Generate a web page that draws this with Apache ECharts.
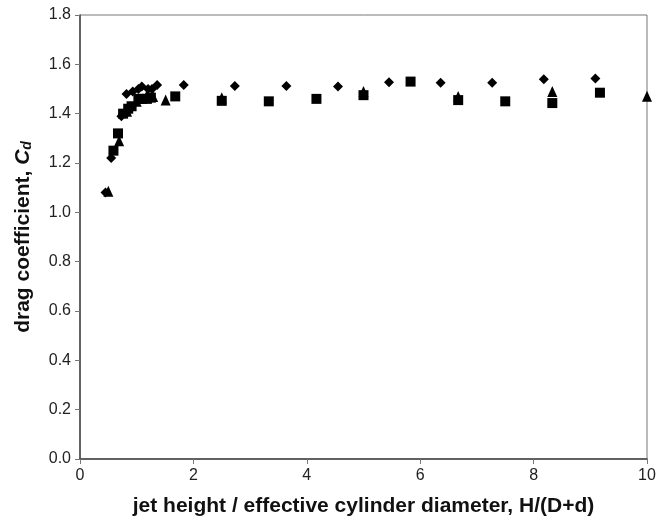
<!DOCTYPE html>
<html>
<head>
<meta charset="utf-8">
<script src="https://cdn.jsdelivr.net/npm/echarts@6/dist/echarts.min.js"></script>
<style>
  html, body { margin: 0; padding: 0; background: #fff; }
  #chart { width: 667px; height: 525px; }
</style>
</head>
<body>
<div id="chart"></div>
<script>
// Drag coefficient vs. normalised jet height, three data sets
const diamondX = [0.45, 0.55, 0.73, 0.82, 0.93, 1.03, 1.09, 1.2, 1.27, 1.36, 1.83, 2.73, 3.64, 4.55, 5.45, 6.36, 7.27, 8.18, 9.09];
const diamondY = [1.08, 1.22, 1.39, 1.48, 1.49, 1.50, 1.51, 1.50, 1.50, 1.516, 1.516, 1.512, 1.512, 1.51, 1.527, 1.525, 1.525, 1.54, 1.543];

const squareX = [0.59, 0.67, 0.76, 0.85, 0.91, 1.03, 1.1, 1.18, 1.25, 1.68, 2.5, 3.33, 4.17, 5.0, 5.83, 6.67, 7.5, 8.33, 9.17];
const squareY = [1.25, 1.32, 1.40, 1.42, 1.43, 1.46, 1.46, 1.46, 1.465, 1.47, 1.452, 1.45, 1.46, 1.475, 1.53, 1.455, 1.45, 1.443, 1.485];

const triangleX = [0.5, 0.69, 0.83, 1.0, 1.17, 1.29, 1.51, 2.5, 5.0, 6.67, 8.33, 10.0];
const triangleY = [1.085, 1.29, 1.41, 1.45, 1.47, 1.47, 1.455, 1.465, 1.49, 1.47, 1.49, 1.471];

const xTicks = [0, 2, 4, 6, 8, 10];
const yTicks = [0.0, 0.2, 0.4, 0.6, 0.8, 1.0, 1.2, 1.4, 1.6, 1.8];

const pairs = (xs, ys) => xs.map((x, i) => [x, ys[i]]);

const FONT = 'Liberation Sans, Arial, sans-serif';
const chart = echarts.init(document.getElementById('chart'), null, { renderer: 'canvas' });

chart.setOption({
  animation: false,
  backgroundColor: '#fff',
  grid: {
    left: 80, right: 20, top: 15, bottom: 66,
    show: true, borderColor: '#777', borderWidth: 1
  },
  xAxis: {
    type: 'value',
    min: xTicks[0], max: xTicks[xTicks.length - 1], interval: 2,
    name: 'jet height / effective cylinder diameter, H/(D+d)',
    nameLocation: 'middle', nameGap: 37,
    nameTextStyle: { fontFamily: FONT, fontSize: 21, fontWeight: 'bold', color: '#111' },
    axisLine: { show: true, onZero: false, lineStyle: { color: '#444', width: 1.5 } },
    axisTick: { show: true, inside: false, length: 5, lineStyle: { color: '#777' } },
    axisLabel: { fontFamily: FONT, fontSize: 16, color: '#222', margin: 9 },
    splitLine: { show: false }
  },
  yAxis: {
    type: 'value',
    min: yTicks[0], max: yTicks[yTicks.length - 1], interval: 0.2,
    name: '{n|drag coefficient, }{c|C}{s|d}',
    nameLocation: 'middle', nameGap: 46,
    nameTextStyle: {
      fontFamily: FONT, fontSize: 21, fontWeight: 'bold', color: '#111',
      rich: {
        n: { fontFamily: FONT, fontSize: 21, fontWeight: 'bold', color: '#111' },
        c: { fontFamily: FONT, fontSize: 21, fontWeight: 'bold', fontStyle: 'italic', color: '#111' },
        s: { fontFamily: FONT, fontSize: 14, fontWeight: 'bold', fontStyle: 'italic', color: '#111', verticalAlign: 'bottom', padding: [8, 0, 0, 0] }
      }
    },
    axisLine: { show: true, onZero: false, lineStyle: { color: '#444', width: 1.5 } },
    axisTick: { show: true, inside: false, length: 5, lineStyle: { color: '#777' } },
    axisLabel: {
      fontFamily: FONT, fontSize: 16, color: '#222', margin: 9,
      formatter: v => v.toFixed(1)
    },
    splitLine: { show: false }
  },
  series: [
    {
      type: 'scatter', name: 'diamond',
      symbol: 'diamond', symbolSize: [10, 10],
      itemStyle: { color: '#000', opacity: 1 },
      data: pairs(diamondX, diamondY)
    },
    {
      type: 'scatter', name: 'square',
      symbol: 'rect', symbolSize: [10, 10],
      itemStyle: { color: '#000', opacity: 1 },
      data: pairs(squareX, squareY)
    },
    {
      type: 'scatter', name: 'triangle',
      symbol: 'triangle', symbolSize: [10, 11],
      itemStyle: { color: '#000', opacity: 1 },
      data: pairs(triangleX, triangleY)
    }
  ]
});
</script>
</body>
</html>
